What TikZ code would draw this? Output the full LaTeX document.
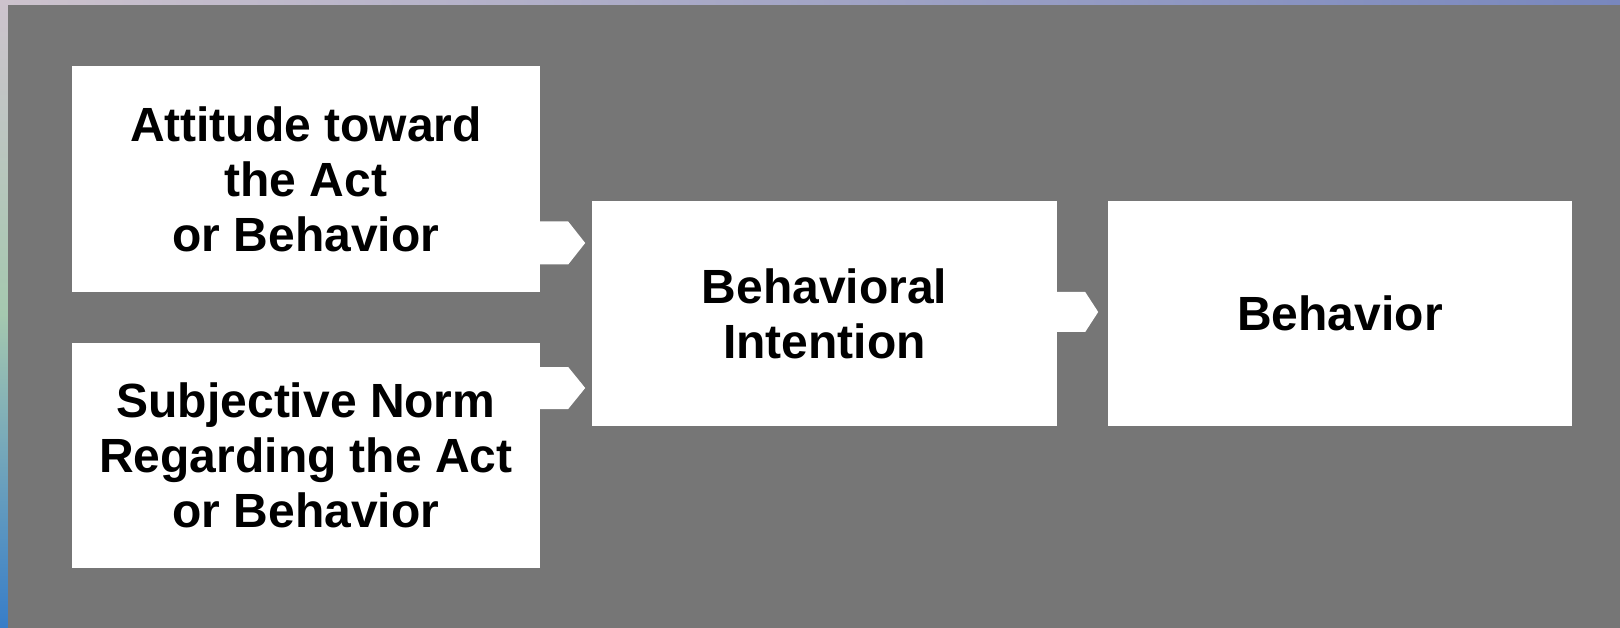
\documentclass[tikz,border=0pt]{standalone}
\usepackage{fontspec}
\setmainfont{Liberation Sans}
\usetikzlibrary{calc}
\definecolor{panel}{RGB}{118,118,118}
\definecolor{waterA}{RGB}{205,195,205}
\definecolor{waterB}{RGB}{165,200,175}
\definecolor{waterC}{RGB}{55,125,200}
\definecolor{topstrip}{RGB}{120,135,190}
\tikzset{
  box/.style={fill=white, draw=none, inner sep=0pt, align=center,
    font=\fontsize{48}{55}\selectfont\bfseries},
  tabfill/.style={fill=white, draw=none}
}
\begin{document}
\begin{tikzpicture}[x=1pt,y=-1pt]
\useasboundingbox (0,0) rectangle (1620,628);
% background strips
\shade[top color=waterA, bottom color=waterC, middle color=waterB] (0,0) rectangle (8,628);
\shade[left color=waterA, right color=topstrip] (0,0) rectangle (1620,5);
\fill[panel] (8,5) rectangle (1620,628);
% boxes
\node[box, minimum width=468, minimum height=226] (att) at (306,179) {Attitude toward\\the Act\\or Behavior};
\node[box, minimum width=468, minimum height=225] (norm) at (306,455.5) {Subjective Norm\\Regarding the Act\\or Behavior};
\node[box, minimum width=465, minimum height=225] (int) at (824.5,313.5) {Behavioral\\Intention};
\node[box, minimum width=464, minimum height=225] (beh) at (1340,313.5) {Behavior};
% tab connectors
\coordinate (t1) at (att.east |- 0,243);
\coordinate (t2) at (norm.east |- 0,388);
\coordinate (t3) at (int.east |- 0,312);
\fill[tabfill] ($(t1)+(0,-21.5)$) -- ++(28,0) -- ++(17,21.5) -- ++(-17,21.5) -- ++(-28,0) -- cycle;
\fill[tabfill] ($(t2)+(0,-21)$) -- ++(28,0) -- ++(17,21) -- ++(-17,21) -- ++(-28,0) -- cycle;
\fill[tabfill] ($(t3)+(0,-20)$) -- ++(28,0) -- ++(13,20) -- ++(-13,20) -- ++(-28,0) -- cycle;
\end{tikzpicture}
\end{document}
